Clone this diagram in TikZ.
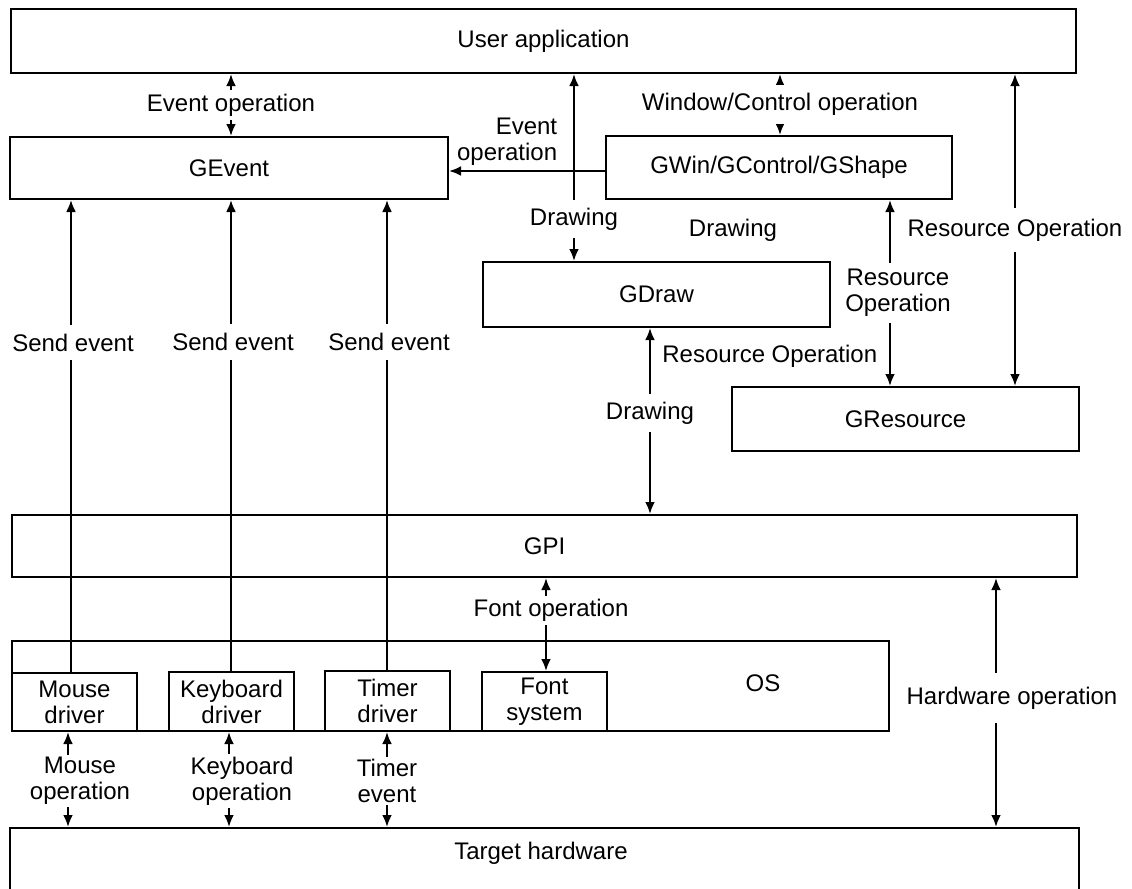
\documentclass[tikz,border=0pt]{standalone}
\usepackage{fontspec}
\setmainfont{Liberation Sans}
\usetikzlibrary{arrows.meta}

\tikzset{
  box/.style={draw, line width=1pt, inner sep=0pt, align=center},
  link/.style={line width=1.4pt, -{Latex[length=6pt,width=5pt]}},
  both/.style={line width=1.4pt, {Latex[length=6pt,width=5pt]}-{Latex[length=6pt,width=5pt]}},
  lbl/.style={fill=white, inner xsep=1pt, align=center},
}

\begin{document}
\begin{tikzpicture}[x=0.5pt,y=-0.5pt,font=\fontsize{12}{13}\selectfont]
  \useasboundingbox (0,0) rectangle (1132,889);
  \clip (0,0) rectangle (1132,889);

  % layers
  \node[box, minimum width=532.5pt, minimum height=32pt] (user) at (543.5,41) {User application};
  \node[box, minimum width=219pt, minimum height=31pt] (gevent) at (229,168) {GEvent};
  \node[box, minimum width=173pt, minimum height=31.5pt] (gwin) at (779,167.5) {GWin/GControl/GShape};
  \node[box, minimum width=173.5pt, minimum height=32.5pt] (gdraw) at (656.5,294.5) {GDraw};
  \node[box, minimum width=173.5pt, minimum height=32pt] (gres) at (905.5,419) {GResource};
  \node[box, minimum width=532.5pt, minimum height=31pt] (gpi) at (544.5,546) {GPI};
  \node[box, minimum width=438.5pt, minimum height=45pt] (os) at (450.5,686) {};
  \node (oslbl) at (763,683) {OS};
  \node[box, minimum width=62.5pt, minimum height=29pt] (mouse) at (74.5,702) {Mouse\\driver};
  \node[box, minimum width=62.5pt, minimum height=29.5pt] (keyb) at (231.5,701.5) {Keyboard\\driver};
  \node[box, minimum width=62.5pt, minimum height=30pt] (timer) at (387.5,701) {Timer\\driver};
  \node[box, minimum width=62.5pt, minimum height=29.5pt] (fontsys) at (544.5,701.5) {Font\\system};
  \node[box, minimum width=534.5pt, minimum height=40pt] (target) at (544.5,868) {};
  \node (tgtlbl) at (541,853) {Target hardware};
  \node (drawlbl) at (733,230) {Drawing};

  % columns of the connectors
  \coordinate (cEv) at (231,0);
  \coordinate (cDr) at (574,0);
  \coordinate (cWc) at (780,0);
  \coordinate (cRo) at (890,0);
  \coordinate (cRr) at (1015,0);
  \coordinate (cGp) at (650,0);
  \coordinate (cFo) at (546,0);
  \coordinate (cHw) at (996,0);
  \coordinate (cHz) at (0,171);
  \coordinate (cSm) at (71,0);
  \coordinate (cSk) at (231,0);
  \coordinate (cSt) at (387,0);
  \coordinate (cMo) at (68,0);
  \coordinate (cKo) at (229,0);
  \coordinate (cTo) at (387,0);

  \draw[both] (user.south -| cEv) -- node[lbl, inner ysep=1.75pt] {Event operation} (gevent.north -| cEv);
  \draw[both] (user.south -| cWc) -- node[lbl, inner ysep=4pt] {Window/Control operation} (gwin.north -| cWc);
  \draw[both] (gdraw.north -| cDr) -- node[lbl, pos=0.225, inner ysep=4pt] {Drawing} (user.south -| cDr);
  \draw[link] (gwin.west |- cHz) -- (gevent.east |- cHz)
    node[pos=0.272, anchor=south east, align=right, inner sep=2pt] {Event\\operation};
  \draw[both] (gwin.south -| cRo) -- node[lbl, inner ysep=3.25pt, xshift=4pt] {Resource\\Operation} (gres.north -| cRo);
  \draw[both] (user.south -| cRr) -- node[lbl, inner ysep=5.5pt] {Resource Operation} (gres.north -| cRr);
  \draw[both] (gdraw.south -| cGp) -- node[lbl, pos=0.457, inner ysep=3.75pt] {Drawing} (gpi.north -| cGp)
    node[pos=0.154, anchor=west, inner sep=0pt, xshift=5.5pt] {Resource Operation};
  \draw[both] (gpi.south -| cFo) -- node[lbl, pos=0.35, inner ysep=1.75pt, xshift=2.5pt] {Font operation} (fontsys.north -| cFo);
  \draw[both] (gpi.south -| cHw) -- node[lbl, pos=0.482, inner ysep=7pt, xshift=8pt] {Hardware operation} (target.north -| cHw);

  % drivers
  \foreach \drv/\col in {mouse/cSm, keyb/cSk, timer/cSt}
    \draw[link, line width=1.1pt] (\drv.north -| \col) -- node[lbl, pos=0.698, inner ysep=4.5pt, xshift=1pt] {Send event} (gevent.south -| \col);
  \foreach \drv/\col/\txt/\dx in {mouse/cMo/{Mouse\\operation}/6pt, keyb/cKo/{Keyboard\\operation}/6.5pt, timer/cTo/{Timer\\event}/0pt}
    \draw[both] (\drv.south -| \col) -- node[lbl, pos=0.515, inner ysep=1.25pt, xshift=\dx] {\txt} (target.north -| \col);
\end{tikzpicture}
\end{document}
